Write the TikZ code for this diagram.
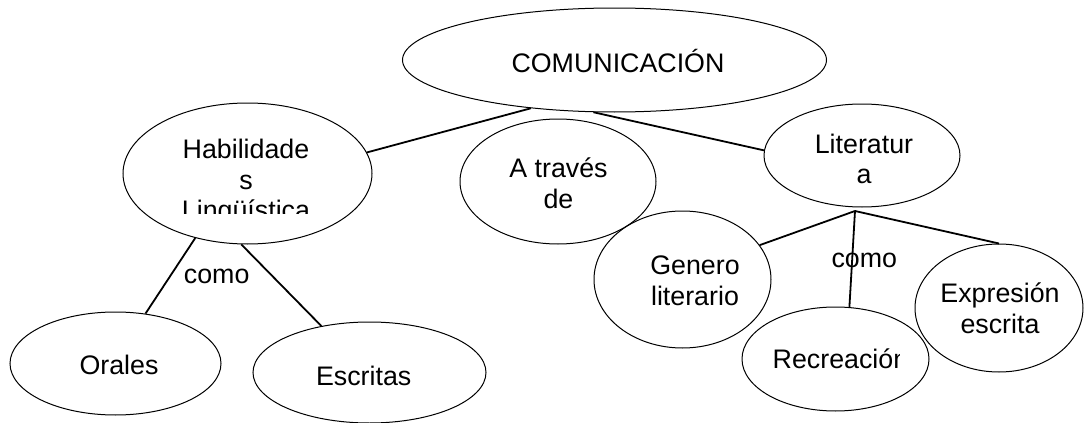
\documentclass[tikz,border=0pt]{standalone}
\usepackage{fontspec}
\setmainfont{Liberation Sans}
\usetikzlibrary{shapes.geometric}

\tikzset{
  bubble/.style={ellipse, draw, line width=0.5pt, inner sep=0pt},
  txt/.style={anchor=base, align=center, inner sep=0pt, font=\fontsize{13.4pt}{15.3pt}\selectfont},
  link/.style={draw, line width=0.9pt},
}

\begin{document}
\begin{tikzpicture}[x=0.5pt,y=-0.5pt]
	\useasboundingbox (0,0) rectangle (1084,423);

		% ellipses
		\node[bubble, minimum width=212pt, minimum height=52pt] (com) at (614.5,60) {};
		\node[bubble, minimum width=124.5pt, minimum height=70.5pt] (hab) at (247.5,173.5) {};
		\node[bubble, minimum width=98pt, minimum height=62.5pt] (tra) at (558,181.5) {};
		\node[bubble, minimum width=98pt, minimum height=51.5pt] (lit) at (862,155.5) {};
		\node[bubble, minimum width=88.5pt, minimum height=68.5pt] (gen) at (682.5,279.5) {};
		\node[bubble, minimum width=93.5pt, minimum height=52pt] (rec) at (835.5,359) {};
		\node[bubble, minimum width=84pt, minimum height=64pt] (exp) at (999,308) {};
		\node[bubble, minimum width=105.5pt, minimum height=51.5pt] (ora) at (115.5,363.5) {};
		\node[bubble, minimum width=116.5pt, minimum height=50.5pt] (esc) at (369.5,372.5) {};

		% texts (base = last line)
		\node[txt] (comtxt) at (618,72) {COMUNICACIÓN};
		\begin{scope}
			\clip (123,100) rectangle (372,213);
			\node[txt] (habtxt) at (246,220) {Habilidade\\s\\Lingüística};
		\end{scope}
		\node[txt] (tratxt) at (558.5,208) {A través\\de};
		\node[txt] (littxt) at (864,184) {Literatur\\a};
		\node[txt] (gentxt) at (695,305) {Genero\\literario};
		\begin{scope}
			\clip (742,300) rectangle (899,415);
			\node[txt] (rectxt) at (840.5,368) {Recreación};
		\end{scope}
		\node[txt] (exptxt) at (1000,333) {Expresión\\escrita};
		\node[txt] (oratxt) at (119,374) {Orales};
		\node[txt] (esctxt) at (363.7,385) {Escritas};
		\node[txt] (como1) at (216.7,283) {como};
		\node[txt] (como2) at (864.3,267) {como};

		% connectors
		\coordinate (litjoin) at (855,211);
		\draw[link] (com.210) -- (hab.10);
		\draw[link] (com.248) -- (lit.177);
		\draw[link] (hab.231) -- (ora.59);
		\draw[link] (hab.265) -- (esc.136);
		\draw[link] (litjoin) -- (gen.24);
		\draw[link] (litjoin) -- (rec.75);
		\draw[link] (litjoin) -- (exp.north);
	\end{tikzpicture}
\end{document}
